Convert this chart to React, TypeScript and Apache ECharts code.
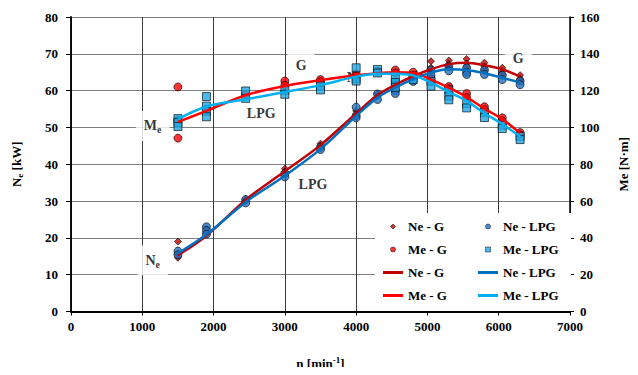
import React, { useEffect, useRef } from "react";
import * as echarts from "echarts";

const speeds = [1500, 1900, 2450, 3000, 3500, 4000, 4300, 4550, 4800, 5050, 5300, 5550, 5800, 6050, 6300];
const neGFit = [15.3, 20.6, 30.3, 38.1, 45.2, 53.8, 58.8, 61.6, 63.9, 65.8, 67.2, 67.6, 66.9, 65.8, 63.8];
const neLpgFit = [15.8, 20.9, 29.7, 36.9, 44.1, 53.1, 58.1, 60.8, 63.1, 64.9, 65.8, 65.6, 64.7, 63.5, 62.2];
const meGFit = [103, 109, 117.5, 122.5, 125.7, 128.3, 129.5, 130, 129.7, 126, 121.6, 116.5, 110.2, 104.5, 96.9];
const meLpgFit = [104.5, 111.4, 115.3, 119.2, 123, 127.6, 129.2, 129.2, 128.3, 124.3, 119.2, 114.4, 107.7, 101.8, 95.1];

const neGPts = [
  [1500, 19], [1500, 15.5], [1500, 14.6], [1900, 22.5], [1900, 21.4], [2450, 30.6], [2450, 30],
  [3000, 38.8], [3000, 38], [3500, 45.6], [3500, 45], [4000, 54.5], [4000, 53.6], [4300, 59.2], [4300, 58.5],
  [4550, 61.8], [4550, 60.6], [4800, 64.2], [4800, 63.2], [5050, 68], [5050, 66.2], [5050, 65.2],
  [5300, 68.2], [5300, 67.2], [5300, 66.4], [5550, 68.6], [5550, 67.4], [5550, 66.4],
  [5800, 67.6], [5800, 66.5], [5800, 65.6], [6050, 66.2], [6050, 65.2], [6050, 64.5],
  [6300, 64.2], [6300, 63.2], [6300, 62.6],
];
const neLpgPts = [
  [1500, 16.4], [1500, 15.4], [1900, 23], [1900, 22], [1900, 21], [2450, 30.4], [2450, 29.5],
  [3000, 37.5], [3000, 36.6], [3500, 44.6], [3500, 44], [4000, 55.5], [4000, 53.2], [4000, 52.6],
  [4300, 59.1], [4300, 57.6], [4550, 62], [4550, 60], [4550, 59.2], [4800, 63.6], [4800, 62.5],
  [5050, 65.6], [5050, 64.2], [5300, 66.6], [5300, 65.4], [5550, 66.2], [5550, 65], [5550, 64.4],
  [5800, 65.6], [5800, 64.4], [6050, 64.2], [6050, 63], [6300, 62.6], [6300, 61.6],
];
const meGPts = [
  [1500, 122], [1500, 104], [1500, 94.2], [1900, 110], [2450, 118], [3000, 125.2], [3000, 122.9],
  [3500, 126], [3500, 124.8], [4000, 129.2], [4000, 128], [4300, 130.5], [4550, 131.2], [4550, 129.6],
  [4800, 130], [5050, 126.6], [5050, 125], [5300, 122.2], [5300, 121], [5550, 118.4], [5550, 116.2],
  [5800, 111.2], [5800, 109.6], [6050, 105.2], [6050, 103.6], [6300, 97.2], [6300, 96],
];
const meLpgPts = [
  [1500, 104.8], [1500, 102.7], [1500, 100.5], [1900, 116.8], [1900, 111.6], [1900, 108.8], [1900, 105.8],
  [2450, 119.8], [2450, 115.8], [3000, 120.2], [3000, 118], [3500, 122.5], [3500, 120.4],
  [4000, 132.4], [4000, 126.5], [4000, 125.2], [4300, 131.5], [4300, 129.6], [4550, 127], [4550, 124.4],
  [4550, 121.8], [4800, 128.2], [4800, 126], [5050, 125], [5050, 122.4], [5300, 120.2], [5300, 117],
  [5300, 115], [5550, 113], [5550, 110.6], [5800, 108], [5800, 105.4], [6050, 101.2], [6050, 99.4],
  [6300, 95.2], [6300, 93.4],
];

const xTicks = [0, 7000, 1000];
const leftTicks = [0, 80, 10];
const rightTicks = [0, 160, 20];

const annotations = [
  { label: "{b|G}", n: 3228, v: 66.8, box: true },
  { label: "{b|G}", n: 6274, v: 68.7, box: true },
  { label: "{b|N}", n: 3940, v: 63.6, box: false },
  { label: "{b|LPG}", n: 2669, v: 53.9, box: true },
  { label: "{b|M}{s|e}", n: 1146, v: 50.4, box: true },
  { label: "{b|LPG}", n: 3395, v: 34.4, box: true },
  { label: "{b|N}{s|e}", n: 1146, v: 13.9, box: true },
];

const FONT = "'Liberation Serif', 'Times New Roman', serif";

const ICON_CIRCLE = "path://M4,0A4,4,0,1,1,4,8A4,4,0,1,1,4,0Z";
const ICON_DIAMOND = "path://M3,0L6,3L3,6L0,3Z";
const ICON_SQUARE = "path://M0,0H8V8H0Z";
const ICON_LINE = "path://M0,0H20V3H0Z";

export default function App() {
  const ref = useRef<HTMLDivElement>(null);
  useEffect(() => {
    if (!ref.current) return;
    const chart = echarts.init(ref.current, undefined, { renderer: "svg" });
    const labelFont = { fontFamily: FONT, fontWeight: "bold" as const, fontSize: 13, color: "#000" };
    const rich = {
      b: { fontFamily: FONT, fontWeight: "bold", fontSize: 14, color: "#000" },
      s: { fontFamily: FONT, fontWeight: "bold", fontSize: 10, color: "#000", verticalAlign: "bottom", padding: [8, 0, 0, 0] },
      t: { fontFamily: FONT, fontWeight: "bold", fontSize: 13, color: "#000" },
      ts: { fontFamily: FONT, fontWeight: "bold", fontSize: 9, color: "#000", padding: [7, 0, 0, 0] },
      tp: { fontFamily: FONT, fontWeight: "bold", fontSize: 9, color: "#000", padding: [0, 0, 7, 0] },
    };
    const scatterBorder = { borderColor: "#000", borderWidth: 0.8 };
    const legendText = { fontFamily: FONT, fontWeight: "bold", fontSize: 13, color: "#000" };
    const fmt = (name: string) => name.replace(/ (pts|line)$/, "");
    const legendBase = {
      top: 220, orient: "vertical", itemWidth: 20, itemHeight: 5, itemGap: 10, padding: 0,
      selectedMode: false, textStyle: legendText, formatter: fmt, z: 5, symbolKeepAspect: true,
      itemStyle: { borderWidth: 0.6, borderColor: "#000" },
    };
    const option: any = {
      animation: false,
      grid: { left: 71, right: 66, top: 17, bottom: 62 },
      graphic: [
        { type: "rect", left: 375, top: 213, shape: { width: 196, height: 98 }, style: { fill: "#fff" }, z: 1, silent: true },
      ],
      legend: [
        {
          ...legendBase, left: 383,
          data: [
            { name: "Ne - G pts", icon: ICON_DIAMOND },
            { name: "Me - G pts", icon: ICON_CIRCLE },
            { name: "Ne - G line", icon: ICON_LINE, itemStyle: { borderWidth: 0 } },
            { name: "Me - G line", icon: ICON_LINE, itemStyle: { borderWidth: 0 } },
          ],
        },
        {
          ...legendBase, left: 478,
          data: [
            { name: "Ne - LPG pts", icon: ICON_CIRCLE },
            { name: "Me - LPG pts", icon: ICON_SQUARE },
            { name: "Ne - LPG line", icon: ICON_LINE, itemStyle: { borderWidth: 0 } },
            { name: "Me - LPG line", icon: ICON_LINE, itemStyle: { borderWidth: 0 } },
          ],
        },
      ],
      xAxis: {
        type: "value", min: xTicks[0], max: xTicks[1], interval: xTicks[2],
        name: "{t|n [min}{tp|-1}{t|]}", nameLocation: "middle", nameGap: 44,
        nameTextStyle: { rich },
        axisLine: { lineStyle: { color: "#000", width: 1.8 } },
        axisTick: { show: true, length: 4, lineStyle: { color: "#000" } },
        axisLabel: { ...labelFont, margin: 8, formatter: (v: number) => String(v) },
        splitLine: { show: true, lineStyle: { color: "#3a3a3a", width: 1 } },
      },
      yAxis: [
        {
          type: "value", min: leftTicks[0], max: leftTicks[1], interval: leftTicks[2],
          name: "{t|N}{ts|e}{t| [kW]}", nameLocation: "middle", nameGap: 47, nameRotate: 90,
          nameTextStyle: { rich },
          axisLine: { show: true, lineStyle: { color: "#000", width: 1.8 } },
          axisTick: { show: true, length: 5, lineStyle: { color: "#000" } },
          axisLabel: { ...labelFont, margin: 13 },
          splitLine: { show: true, lineStyle: { color: "#808080", width: 1 } },
        },
        {
          type: "value", min: rightTicks[0], max: rightTicks[1], interval: rightTicks[2], position: "right",
          name: "Me [N·m]", nameLocation: "middle", nameGap: 47, nameRotate: 90,
          nameTextStyle: { fontFamily: FONT, fontWeight: "bold", fontSize: 13, color: "#000" },
          axisLine: { show: true, lineStyle: { color: "#000", width: 1.5 } },
          axisTick: { show: true, length: 4, lineStyle: { color: "#000" } },
          axisLabel: { ...labelFont, margin: 10 },
          splitLine: { show: false },
        },
      ],
      series: [
        {
          name: "annot", type: "scatter", yAxisIndex: 0, z: 1, silent: true, symbolSize: 1,
          itemStyle: { color: "rgba(0,0,0,0)" },
          data: annotations.map((a) => ({
            value: [a.n, a.v],
            label: {
              show: true, position: "inside", formatter: a.label, rich,
              backgroundColor: a.box ? "#fff" : "transparent", padding: [6, 8],
            },
          })),
        },
        {
          name: "Ne - G pts", type: "scatter", yAxisIndex: 0, z: 3, symbol: "diamond", symbolSize: 7,
          itemStyle: { color: "#C00000", ...scatterBorder }, data: neGPts,
        },
        {
          name: "Me - G pts", type: "scatter", yAxisIndex: 1, z: 3, symbol: "circle", symbolSize: 8,
          itemStyle: { color: "#FF0000", ...scatterBorder }, data: meGPts,
        },
        {
          name: "Ne - LPG pts", type: "scatter", yAxisIndex: 0, z: 3, symbol: "circle", symbolSize: 8,
          itemStyle: { color: "#1F72C4", ...scatterBorder }, data: neLpgPts,
        },
        {
          name: "Me - LPG pts", type: "scatter", yAxisIndex: 1, z: 3, symbol: "rect", symbolSize: 8,
          itemStyle: { color: "#1EA7E6", ...scatterBorder }, data: meLpgPts,
        },
        {
          name: "Ne - G line", type: "line", yAxisIndex: 0, z: 4, smooth: 0.35, symbol: "none",
          lineStyle: { color: "#C00000", width: 2.5 }, itemStyle: { color: "#C00000", borderWidth: 0 },
          data: speeds.map((s, i) => [s, neGFit[i]]),
        },
        {
          name: "Me - G line", type: "line", yAxisIndex: 1, z: 4, smooth: 0.35, symbol: "none",
          lineStyle: { color: "#FF0000", width: 2.5 }, itemStyle: { color: "#FF0000", borderWidth: 0 },
          data: speeds.map((s, i) => [s, meGFit[i]]),
        },
        {
          name: "Ne - LPG line", type: "line", yAxisIndex: 0, z: 4, smooth: 0.35, symbol: "none",
          lineStyle: { color: "#0070C0", width: 2.5 }, itemStyle: { color: "#0070C0", borderWidth: 0 },
          data: speeds.map((s, i) => [s, neLpgFit[i]]),
        },
        {
          name: "Me - LPG line", type: "line", yAxisIndex: 1, z: 4, smooth: 0.35, symbol: "none",
          lineStyle: { color: "#00B0F0", width: 2.5 }, itemStyle: { color: "#00B0F0", borderWidth: 0 },
          data: speeds.map((s, i) => [s, meLpgFit[i]]),
        },
      ],
    };
    chart.setOption(option);
    return () => chart.dispose();
  }, []);
  return <div ref={ref} style={{ width: 638, height: 375, margin: -8 }} />;
}
